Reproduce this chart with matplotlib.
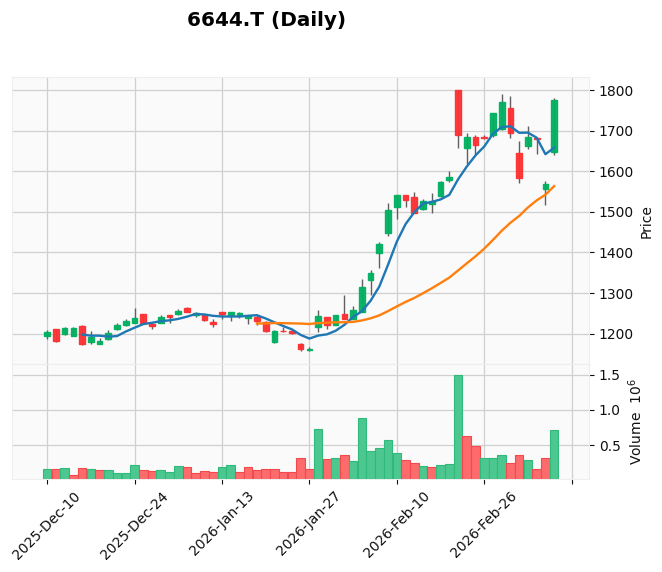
import numpy as np
import pandas as pd
import matplotlib
matplotlib.use("Agg")
import matplotlib.pyplot as plt
from matplotlib.ticker import FixedLocator, FuncFormatter, MultipleLocator

# trading days (TSE), 2025-12-10 .. 2026-03-10
dates = pd.to_datetime([
    "2025-12-10", "2025-12-11", "2025-12-12", "2025-12-15", "2025-12-16", "2025-12-17",
    "2025-12-18", "2025-12-19", "2025-12-22", "2025-12-23", "2025-12-24", "2025-12-25",
    "2025-12-26", "2025-12-29", "2025-12-30", "2026-01-05", "2026-01-06", "2026-01-07",
    "2026-01-08", "2026-01-09", "2026-01-13", "2026-01-14", "2026-01-15", "2026-01-16",
    "2026-01-19", "2026-01-20", "2026-01-21", "2026-01-22", "2026-01-23", "2026-01-26",
    "2026-01-27", "2026-01-28", "2026-01-29", "2026-01-30", "2026-02-02", "2026-02-03",
    "2026-02-04", "2026-02-05", "2026-02-06", "2026-02-09", "2026-02-10", "2026-02-12",
    "2026-02-13", "2026-02-16", "2026-02-17", "2026-02-18", "2026-02-19", "2026-02-20",
    "2026-02-24", "2026-02-25", "2026-02-26", "2026-02-27", "2026-03-02", "2026-03-03",
    "2026-03-04", "2026-03-05", "2026-03-06", "2026-03-09", "2026-03-10",
])

opens = [1195, 1211, 1199, 1194, 1218, 1179, 1175, 1187, 1212, 1220,
         1226, 1248, 1224, 1227, 1245, 1248, 1264, 1245, 1245, 1228,
         1252, 1247, 1246, 1239, 1241, 1228, 1178, 1207, 1206.5, 1174.5,
         1160, 1216.5, 1240, 1222, 1249, 1237, 1253.5, 1332, 1399, 1448.6,
         1512.8, 1541.6, 1536.6, 1508, 1520, 1540, 1579, 1800, 1657.6, 1685,
         1685, 1689, 1705, 1756, 1645, 1662.6, 1682, 1556, 1648]
highs = [1210, 1212, 1216, 1215, 1220, 1207, 1189, 1208, 1225, 1235,
         1262, 1249, 1225, 1247, 1246, 1261, 1266, 1253.5, 1246, 1237,
         1253, 1254, 1253, 1245, 1245, 1232, 1209, 1215, 1208, 1176,
         1167, 1257, 1241, 1247, 1294, 1269, 1334, 1358, 1425.5, 1522.6,
         1542, 1542, 1548, 1531, 1546, 1576, 1601, 1800, 1695, 1690.5,
         1690, 1745, 1792, 1785, 1675, 1711, 1684, 1577, 1782]
lows = [1187, 1180, 1196, 1193, 1171, 1175, 1174, 1185, 1210, 1218,
        1225, 1224, 1211, 1225, 1226, 1246, 1252, 1240, 1232, 1216,
        1235, 1230, 1239, 1224, 1222, 1205, 1176, 1203, 1200, 1158,
        1157, 1205, 1211.5, 1220, 1235, 1236, 1252, 1295, 1360.5, 1441,
        1481.5, 1511, 1497, 1506, 1498, 1538, 1575, 1658.5, 1619, 1643.6,
        1680, 1685, 1701, 1682, 1572, 1656, 1642, 1518, 1640]
closes = [1205, 1181, 1214, 1213, 1175, 1191, 1181, 1202, 1220, 1231,
          1238, 1226, 1218, 1240, 1241, 1256, 1253.5, 1251, 1234, 1224,
          1248, 1253.5, 1251, 1243, 1231, 1207.5, 1206.5, 1205.5, 1201, 1163,
          1162, 1243.6, 1220.6, 1245, 1236, 1259, 1314, 1350.6, 1420.6, 1506,
          1542, 1530, 1498, 1527, 1526, 1573, 1586, 1689, 1685, 1664,
          1683, 1744, 1771, 1694.6, 1583.5, 1685, 1681, 1568, 1775]
volumes = [157000, 157000, 171000, 72000, 171000, 157000, 143000, 143000, 110000, 110000,
           213000, 143000, 129000, 143000, 114000, 200000, 185000, 100000, 129000, 114000,
           185000, 213000, 124000, 195000, 153000, 167000, 167000, 124000, 124000, 322000,
           167000, 731000, 308000, 326000, 368000, 283000, 891000, 425000, 467000, 580000,
           396000, 297000, 255000, 200000, 185000, 213000, 227000, 1500000, 637000, 495000,
           326000, 326000, 368000, 255000, 368000, 297000, 157000, 326000, 722000]

mav_periods = [5, 25]
title = "6644.T (Daily)"

df = pd.DataFrame({"Open": opens, "High": highs, "Low": lows,
                   "Close": closes, "Volume": volumes}, index=dates)
x = np.arange(len(df))

up_c, down_c = "#00b060", "#fe3032"
vup_c, vdown_c = "#4dc790", "#fd6b6c"
wick_c = "#606060"
face = "#fafafa"
grid_c = "#d0d0d0"
mav_colors = ["#1f77b4", "#ff7f0e"]

fig = plt.figure(figsize=(6.62, 5.72), dpi=100)
ax = fig.add_axes([0.0186, 0.3636, 0.8711, 0.5013])
axv = fig.add_axes([0.0186, 0.1626, 0.8711, 0.2010], sharex=ax)

for a in (ax, axv):
    a.set_facecolor(face)
    a.set_axisbelow(True)
    a.grid(True, color=grid_c, linestyle="-", linewidth=0.9)
    for s in a.spines.values():
        s.set_color("#eeeeee")
    a.yaxis.tick_right()
    a.yaxis.set_label_position("right")
    a.tick_params(colors="#101010", labelsize=10, length=3.5)

# candles
is_up = df["Close"] >= df["Open"]
ccol = np.where(is_up, up_c, down_c)
ax.vlines(x, df["Low"], df["High"], colors=wick_c, linewidth=1.0, zorder=2)
body_lo = np.minimum(df["Open"], df["Close"])
body_h = (df["Close"] - df["Open"]).abs()
ax.bar(x, body_h, bottom=body_lo, width=0.65, color=ccol, edgecolor=ccol,
       linewidth=1.0, alpha=0.95, zorder=3)

# moving averages
for p, c in zip(mav_periods, mav_colors):
    ax.plot(x, df["Close"].rolling(p).mean(), color=c, linewidth=1.7, zorder=4)

# volume, coloured by close vs previous close
prev_up = df["Close"].diff().fillna(0) > 0
prev_up.iloc[0] = is_up.iloc[0]
vcol = np.where(prev_up, vup_c, vdown_c)
vedge = np.where(prev_up, "#2fb97a", "#f24a4c")
axv.bar(x, df["Volume"] / 1e6, width=0.98, color=vcol, edgecolor=vedge,
        linewidth=0.8, zorder=3)

# limits like mplfinance
avg = (x[-1] - x[0]) / float(len(x))
lo_x, hi_x = x[0] - avg, x[-1] + avg
pad = 0.05 * (hi_x - lo_x)
ax.set_xlim(lo_x - pad, hi_x + pad)
lo, hi = df["Low"].min(), df["High"].max()
ax.set_ylim(lo - 0.05 * (hi - lo), hi + 0.05 * (hi - lo))
axv.set_ylim(0.3 * df["Volume"].min() / 1e6, 1.1 * df["Volume"].max() / 1e6)
axv.yaxis.set_major_locator(MultipleLocator(0.5))

ticks = list(range(0, len(x) + 10, 10))
axv.xaxis.set_major_locator(FixedLocator(ticks))


def fmt_date(v, pos):
    i = int(round(v))
    if 0 <= i < len(df):
        return df.index[i].strftime("%Y-%b-%d")
    return ""


axv.xaxis.set_major_formatter(FuncFormatter(fmt_date))
plt.setp(axv.get_xticklabels(), rotation=45, ha="center")
ax.tick_params(axis="x", length=0, labelbottom=False)

ax.set_ylabel("Price", fontsize=10, color="#101010")
axv.set_ylabel("Volume  $10^{6}$", fontsize=10, color="#101010")

fig.text(0.4026, 0.965, title, ha="center", va="center",
         fontsize=14.4, fontweight="bold")

fig.savefig("out.png", dpi=100)
